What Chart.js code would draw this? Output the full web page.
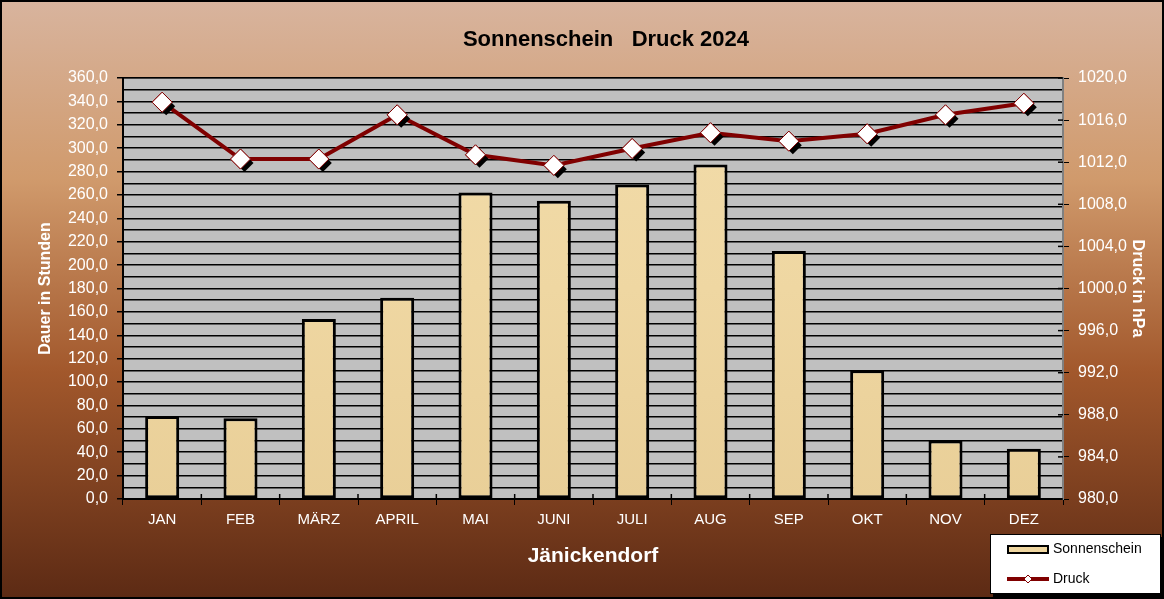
<!DOCTYPE html>
<html>
<head>
<meta charset="utf-8">
<script src="https://cdn.jsdelivr.net/npm/chart.js@4"></script>
<style>
    html, body { margin: 0; padding: 0; background: #fff; }
    #wrap { width: 1164px; height: 599px; position: relative; }
    canvas { display: block; }
</style>
</head>
<body>
<div id="wrap"><canvas id="chart" width="1164" height="599"></canvas></div>
<script>
// ===== Données =====
const months = ["JAN", "FEB", "MÄRZ", "APRIL", "MAI", "JUNI", "JULI", "AUG", "SEP", "OKT", "NOV", "DEZ"];
const sonnenschein = [71, 69, 154, 172, 262, 255, 269, 286, 212, 110, 50, 43];
const druck = [1017.7, 1012.3, 1012.3, 1016.5, 1012.7, 1011.7, 1013.3, 1014.8, 1014.0, 1014.7, 1016.5, 1017.6];
const leftTicks = [0, 360, 20];
const rightTicks = [980, 1020, 4];

const FONT = "'Liberation Sans', Arial, sans-serif";

function fmt(v) {
    return v.toFixed(1).replace(".", ",");
}

// ===== Plugins =====
const backgroundPlugin = {
    id: "background",
    beforeDraw(chart) {
        const { ctx, width, height, chartArea } = chart;
        const g = ctx.createLinearGradient(0, 0, 0, height);
        g.addColorStop(0, "#d8b49e");
        g.addColorStop(0.3, "#d09a6c");
        g.addColorStop(0.62, "#a2582c");
        g.addColorStop(1, "#5c2a14");
        ctx.save();
        ctx.fillStyle = g;
        ctx.fillRect(0, 0, width, height);
        // zone de tracé
        ctx.fillStyle = "#c0c0c0";
        ctx.fillRect(chartArea.left, chartArea.top, chartArea.right - chartArea.left, chartArea.bottom - chartArea.top);
        ctx.strokeStyle = "#808080";
        ctx.lineWidth = 2;
        ctx.strokeRect(chartArea.left, chartArea.top, chartArea.right - chartArea.left, chartArea.bottom - chartArea.top);

        // titre
        ctx.fillStyle = "#000";
        ctx.font = "bold 22px " + FONT;
        ctx.textAlign = "center";
        ctx.textBaseline = "middle";
        ctx.fillText("Sonnenschein   Druck 2024", 606, 40);
        ctx.restore();
    },
    afterDraw(chart) {
        const { ctx, width, height, chartArea } = chart;
        ctx.save();
        // petits traits de graduation qui croisent l'axe droit
        const y1 = chart.scales.y1;
        ctx.strokeStyle = "#000";
        ctx.lineWidth = 1.5;
        y1.ticks.forEach(t => {
            const y = y1.getPixelForValue(t.value);
            ctx.beginPath();
            ctx.moveTo(chartArea.right - 5, y);
            ctx.lineTo(chartArea.right, y);
            ctx.stroke();
        });
        const xs = chart.scales.x;
        for (let i = 1; i < months.length; i++) {
            const x = (xs.getPixelForValue(i - 1) + xs.getPixelForValue(i)) / 2;
            ctx.beginPath();
            ctx.moveTo(x, chartArea.bottom - 5);
            ctx.lineTo(x, chartArea.bottom);
            ctx.stroke();
        }
        ctx.lineWidth = 2;
        ctx.strokeRect(1, 1, width - 2, height - 2);
        ctx.restore();
    }
};

// Ombre noire sous les losanges
const markerShadowPlugin = {
    id: "markerShadow",
    afterDatasetDraw(chart, args) {
        if (args.index !== 0) return;
        const ctx = chart.ctx;
        const meta = args.meta;
        ctx.save();
        meta.data.forEach(pt => {
            ctx.fillStyle = "#000";
            ctx.beginPath();
            const r = 9;
            const x = pt.x + 4, y = pt.y + 4;
            ctx.moveTo(x, y - r);
            ctx.lineTo(x + r, y);
            ctx.lineTo(x, y + r);
            ctx.lineTo(x - r, y);
            ctx.closePath();
            ctx.fill();
        });
        meta.data.forEach(pt => pt.draw(ctx, chart.chartArea));
        ctx.restore();
    }
};

const legendBoxPlugin = {
    id: "legendBox",
    afterDraw(chart) {
        const ctx = chart.ctx;
        const x = 990, y = 534, w = 171, h = 60;
        ctx.save();
        ctx.fillStyle = "#000";
        ctx.fillRect(x + 3, y + 3, w, h);
        ctx.fillStyle = "#fff";
        ctx.fillRect(x, y, w, h);
        ctx.strokeStyle = "#000";
        ctx.lineWidth = 1;
        ctx.strokeRect(x + 0.5, y + 0.5, w - 1, h - 1);

        // Sonnenschein
        ctx.fillStyle = "#efd6a0";
        ctx.fillRect(1008, 546, 40, 7);
        ctx.lineWidth = 2;
        ctx.strokeRect(1008, 546, 40, 7);

        // Druck
        ctx.strokeStyle = "#800000";
        ctx.lineWidth = 4;
        ctx.beginPath();
        ctx.moveTo(1007, 579);
        ctx.lineTo(1049, 579);
        ctx.stroke();
        ctx.fillStyle = "#fff";
        ctx.lineWidth = 1;
        ctx.beginPath();
        ctx.moveTo(1028, 575);
        ctx.lineTo(1032, 579);
        ctx.lineTo(1028, 583);
        ctx.lineTo(1024, 579);
        ctx.closePath();
        ctx.fill();
        ctx.stroke();

        ctx.fillStyle = "#000";
        ctx.font = "14px " + FONT;
        ctx.textBaseline = "middle";
        ctx.fillText("Sonnenschein", 1053, 549);
        ctx.fillText("Druck", 1053, 579);
        ctx.restore();
    }
};

// ===== Graphique =====
const ctx = document.getElementById("chart").getContext("2d");
new Chart(ctx, {
    data: {
        labels: months,
        datasets: [
            {
                type: "line",
                label: "Druck",
                data: druck,
                yAxisID: "y1",
                order: 0,
                borderColor: "#800000",
                borderWidth: 4,
                pointStyle: "rectRot",
                pointRadius: 10,
                pointBackgroundColor: "#fff",
                pointBorderColor: "#800000",
                pointBorderWidth: 1,
                tension: 0
            },
            {
                type: "bar",
                label: "Sonnenschein",
                data: sonnenschein,
                yAxisID: "y",
                order: 1,
                backgroundColor: (c) => {
                    const area = c.chart.chartArea;
                    if (!area) return "#efd6a0";
                    const g = c.chart.ctx.createLinearGradient(0, area.top, 0, area.bottom);
                    g.addColorStop(0, "#f2dcaa");
                    g.addColorStop(0.5, "#efd7a2");
                    g.addColorStop(1, "#e9cf98");
                    return g;
                },
                borderColor: "#000",
                borderWidth: 3,
                borderSkipped: false,
                barPercentage: 0.53,
                categoryPercentage: 0.82
            }
        ]
    },
    options: {
        responsive: false,
        animation: false,
        layout: { padding: { top: 78, left: 0, right: 0, bottom: 0 } },
        plugins: {
            legend: { display: false },
            tooltip: { enabled: false },
            title: { display: false }
        },
        scales: {
            x: {
                offset: true,
                grid: {
                    display: true,
                    offset: true,
                    drawOnChartArea: false,
                    color: "#000",
                    tickLength: 6
                },
                border: { display: true, color: "#000", width: 2 },
                ticks: {
                    color: "#fff",
                    font: { family: FONT, size: 15 },
                    padding: 6
                },
                title: {
                    display: true,
                    text: "Jänickendorf",
                    color: "#fff",
                    font: { family: FONT, size: 21, weight: "bold" },
                    padding: { top: 0, bottom: 30 }
                },
                afterFit(scale) { scale.height = 100; }
            },
            y: {
                position: "left",
                min: leftTicks[0],
                max: leftTicks[1],
                grid: {
                    color: "#000",
                    lineWidth: 1.5,
                    tickLength: 6,
                    tickColor: (c) => (c.tick && c.tick.value % leftTicks[2] === 0 ? "#000" : "rgba(0,0,0,0)")
                },
                border: { display: true, color: "#000", width: 2 },
                ticks: {
                    stepSize: leftTicks[2] / 2,
                    autoSkip: false,
                    color: "#fff",
                    font: { family: FONT, size: 16 },
                    padding: 9,
                    callback: (v) => (v % leftTicks[2] === 0 ? fmt(v) : "")
                },
                title: {
                    display: true,
                    text: "Dauer in Stunden",
                    color: "#fff",
                    font: { family: FONT, size: 16, weight: "bold" },
                    padding: { top: 36, bottom: 0 }
                },
                afterFit(scale) { scale.width = 123; }
            },
            y1: {
                position: "right",
                min: rightTicks[0],
                max: rightTicks[1],
                grid: {
                    drawOnChartArea: false,
                    color: "#000",
                    tickLength: 6
                },
                border: { display: true, color: "#808080", width: 2 },
                ticks: {
                    stepSize: rightTicks[2],
                    color: "#fff",
                    font: { family: FONT, size: 16 },
                    padding: 9,
                    callback: (v) => fmt(v)
                },
                title: {
                    display: true,
                    text: "Druck in hPa",
                    color: "#fff",
                    font: { family: FONT, size: 16, weight: "bold" },
                    padding: { top: 17, bottom: 0 }
                },
                afterFit(scale) { scale.width = 101; }
            }
        }
    },
    plugins: [backgroundPlugin, markerShadowPlugin, legendBoxPlugin]
});
</script>
</body>
</html>
